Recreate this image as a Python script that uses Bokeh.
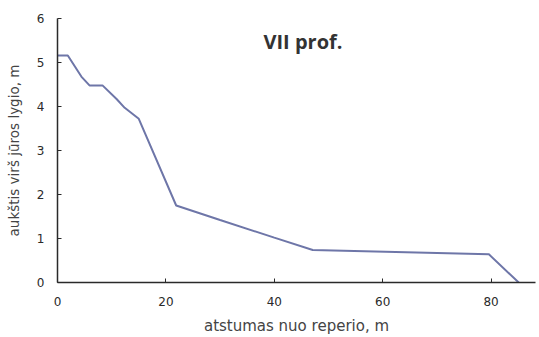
from bokeh.plotting import figure
from bokeh.models import Label, Range1d, FixedTicker
from bokeh.embed import file_html
from bokeh.resources import INLINE

# profile data: distance from benchmark (m) and elevation above sea level (m)
distance = [0, 1.9, 4.4, 5.9, 8.3, 10.9, 12.4, 15.0, 21.9, 30.0, 40.0, 47.1, 79.6, 85.1]
elevation = [5.16, 5.16, 4.68, 4.48, 4.48, 4.17, 3.97, 3.72, 1.75, 1.42, 1.02, 0.74, 0.64, 0.0]
x_ticks = [0, 20, 40, 60, 80]
y_ticks = [0, 1, 2, 3, 4, 5, 6]
title_text = "VII prof."
x_label = "atstumas nuo reperio, m"
y_label = "aukštis virš jūros lygio, m"

p = figure(width=539, height=337, output_backend="svg", toolbar_location=None,
           x_range=Range1d(0, 88.2), y_range=Range1d(0, 6))
p.min_border_left = 57
p.min_border_right = 4
p.min_border_top = 18
p.min_border_bottom = 55
p.outline_line_color = None
p.background_fill_color = "white"
p.border_fill_color = "white"
p.xgrid.visible = False
p.ygrid.visible = False

p.line(distance, elevation, line_color="#6E76A8", line_width=2)

for ax in (p.xaxis[0], p.yaxis[0]):
    ax.axis_line_color = "#2a2a2a"
    ax.axis_line_width = 1.5
    ax.major_tick_in = 4
    ax.major_tick_out = 0
    ax.major_tick_line_color = "#2a2a2a"
    ax.minor_tick_line_color = None
    ax.major_label_text_font = "DejaVu Sans"
    ax.major_label_text_font_size = "12px"
    ax.major_label_text_color = "#2a2a2a"
    ax.axis_label_text_font = "DejaVu Sans"
    ax.axis_label_text_font_style = "normal"
    ax.axis_label_text_color = "#444444"

p.xaxis.axis_label_text_font_size = "15px"
p.yaxis.axis_label_text_font_size = "13.5px"
p.xaxis.ticker = FixedTicker(ticks=x_ticks)
p.yaxis.ticker = FixedTicker(ticks=y_ticks)
p.xaxis.axis_label = x_label
p.yaxis.axis_label = y_label
p.xaxis.major_label_standoff = 14
p.xaxis.axis_label_standoff = 8
p.yaxis.major_label_standoff = 13
p.yaxis.axis_label_standoff = 12

p.add_layout(Label(x=45.3, y=5.48, text=title_text, text_align="center",
                   text_baseline="middle", text_font="Open Sans",
                   text_font_style="bold", text_font_size="20px",
                   text_color="#333333"))

open("out.html", "w").write(file_html(p, INLINE))
